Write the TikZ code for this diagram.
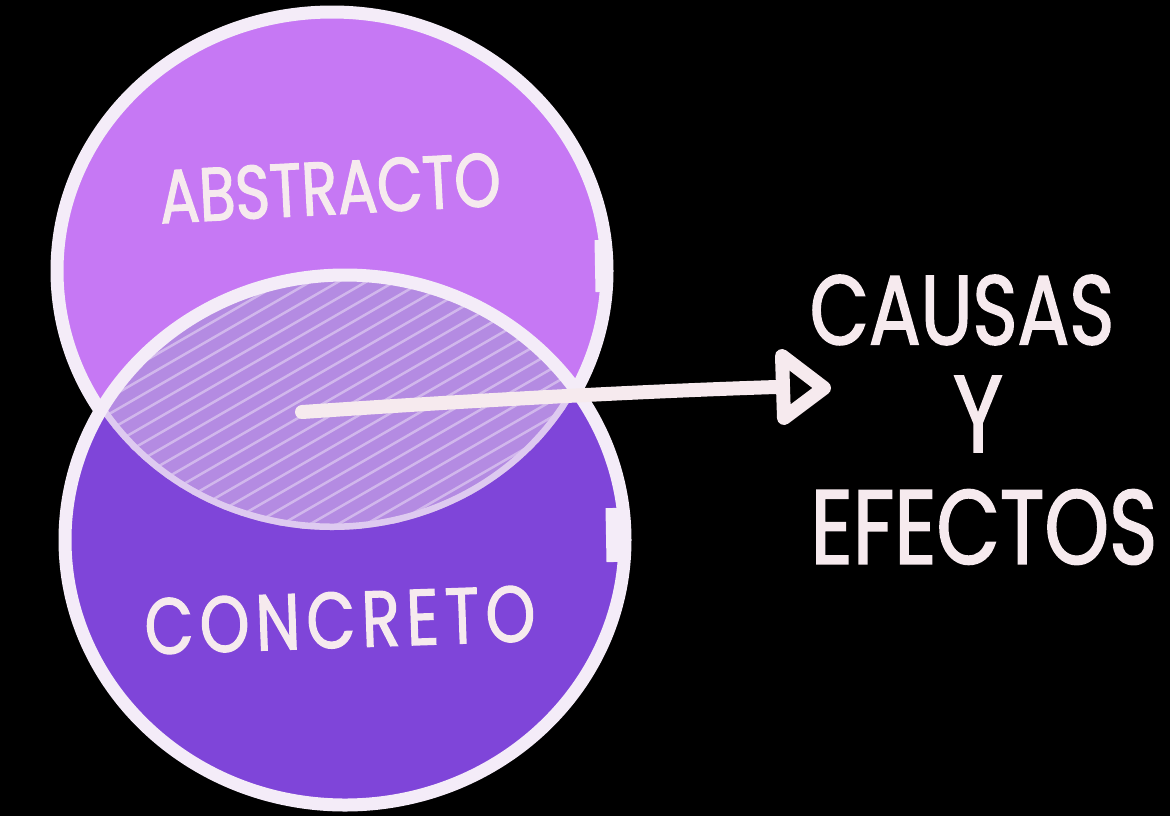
\documentclass[tikz,border=0pt]{standalone}
\usepackage{fontspec}
\newfontfamily\handfont[FakeStretch=0.78, FakeBold=1.6]{Poppins}
\newfontfamily\handwide[FakeStretch=0.8, FakeBold=1.6, LetterSpace=8]{Poppins}
\usetikzlibrary{positioning}
\definecolor{topviolet}{HTML}{C678F4}
\definecolor{lowviolet}{HTML}{7F45D9}
\definecolor{mixviolet}{HTML}{B48BE2}
\definecolor{rimwhite}{HTML}{F4ECF8}
\definecolor{chalk}{HTML}{F6EAEE}

\begin{document}
\begin{tikzpicture}[x=0.02cm, y=-0.02cm,
    rim/.style={draw=rimwhite, line width=0.26cm},
    softrim/.style={draw=rimwhite!65!mixviolet, line width=0.26cm},
    hatch/.style={draw=rimwhite!45!mixviolet, line width=0.05cm, line cap=round},
    chalkline/.style={draw=chalk, line width=0.28cm, line cap=round, line join=round},
    label/.style={text=chalk, inner sep=0pt, font=\handfont\fontsize{43}{46}\selectfont},
    bigword/.style={text=chalk, inner sep=0pt, font=\handfont\fontsize{56}{60}\selectfont}
]

%% background and frame
\fill[black] (0,0) rectangle (1170,816);
\useasboundingbox (0,0) rectangle (1170,816);

\coordinate (top) at (332,271);
\coordinate (low) at (345,540);

%% upper circle
\fill[topviolet] (top) ellipse [x radius=275, y radius=259];
\draw[rim] (top) ellipse [x radius=275, y radius=259];
\draw[rim] (601,240) -- (602,292);

%% lower circle
\fill[lowviolet] (low) ellipse [x radius=280, y radius=265];

%% overlap, hatched
\begin{scope}
  \clip (top) ellipse [x radius=275, y radius=259];
  \fill[mixviolet] (low) ellipse [x radius=280, y radius=265];
  \clip (low) ellipse [x radius=280, y radius=265];
  \foreach \k in {0,...,32}
    \draw[hatch] (-200+\k*28,560) -- ++(520,-300);
  \draw[softrim] (top) ellipse [x radius=275, y radius=259];
\end{scope}

\draw[rim] (low) ellipse [x radius=280, y radius=265];
\draw[rim] (612,508) -- (613,562);

%% labels
\node[label, rotate=3] (abstracto) at (330,188) {ABSTRACTO};
\node[label, rotate=2, font=\handwide\fontsize{45}{48}\selectfont] (concreto) at (340,620) {CONCRETO};

\node[bigword] (causas) at (962,310) {CAUSAS};
\node[bigword, font=\handfont\fontsize{62}{66}\selectfont] (y) at (978,414) {Y};
\node[bigword, font=\handfont\fontsize{60}{66}\selectfont] (efectos) at (984,527) {EFECTOS};

%% arrow
\coordinate (tail) at (302,412);
\coordinate (tip) at (776,387);
\draw[chalkline] (tail) .. controls (450,402) and (620,392) .. (tip);
\draw[chalkline] (782,356) -- (824,388) -- (784,418) -- cycle;

\end{tikzpicture}
\end{document}
